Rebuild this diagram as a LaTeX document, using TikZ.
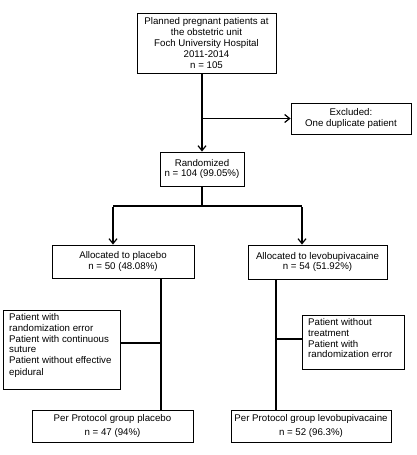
\documentclass[tikz,border=0pt]{standalone}
\usepackage{fontspec}
\setmainfont{Liberation Sans}
\usetikzlibrary{arrows.meta}
\begin{document}
\begin{tikzpicture}[x=1pt,y=-1pt,
  txt/.style={font=\fontsize{9.7}{10.9}\selectfont},
  box/.style={draw,line width=0.8pt,inner sep=1pt,align=center,txt},
  conn/.style={line width=1.6pt},
  arr/.style={conn,-{Straight Barb[length=5pt,width=8pt,line width=1.2pt]}}]
\useasboundingbox (0,0) rectangle (417,455);
\node[box,minimum width=139pt,minimum height=60pt] (top) at (206.5,43) {Planned pregnant patients at\\the obstetric unit\\Foch University Hospital\\2011-2014\\n = 105};
\node[box,minimum width=120pt,minimum height=31pt] (excl) at (351,118.5) {Excluded:\\One duplicate patient};
\node[box,minimum width=84pt,minimum height=34pt] (rand) at (202,169) {Randomized\\n = 104 (99.05\%)};
\node[box,minimum width=142pt,minimum height=33pt] (allocL) at (123,261.5) {Allocated to placebo\\n = 50 (48.08\%)};
\node[box,minimum width=139pt,minimum height=34pt] (allocR) at (317.5,262) {Allocated to levobupivacaine\\n = 54 (51.92\%)};
\node[draw,line width=0.8pt,minimum width=117pt,minimum height=79pt] (exL) at (61.5,349.5) {};
\node[anchor=north west,inner sep=0pt,align=left,txt] (exLt) at (9,313) {Patient with\\randomization error\\Patient with continuous\\suture\\Patient without effective\\[1pt]epidural};
\node[draw,line width=0.8pt,minimum width=102pt,minimum height=54pt] (exR) at (353,342) {};
\node[anchor=north west,inner sep=0pt,align=left,txt] (exRt) at (308,318) {Patient without\\treatment\\Patient with\\randomization error};
\node[box,minimum width=161pt,minimum height=32pt] (ppL) at (112.5,426) {Per Protocol group placebo\\[4pt]n = 47 (94\%)};
\node[box,minimum width=160pt,minimum height=32pt] (ppR) at (311,426) {Per Protocol group levobupivacaine\\[4pt]n = 52 (96.3\%)};
\coordinate (b1) at (202,118.5);
\coordinate (s) at (202,206);
\coordinate (sL) at (113,206);
\coordinate (sR) at (302,206);
\coordinate (vL) at (161,0);
\coordinate (vR) at (276,0);
\coordinate (hL) at (0,343);
\coordinate (hR) at (0,339);
\draw[arr] (top.south -| rand.north) -- (rand.north);
\draw[arr] (b1) -- (excl.west);
\draw[conn] (rand.south) -- (s);
\draw[conn] (sL) -- (sR);
\draw[arr] ([yshift=-0.8pt]sL) -- (sL |- allocL.north);
\draw[arr] ([yshift=-0.8pt]sR) -- (sR |- allocR.north);
\draw[conn] (allocL.south -| vL) -- (ppL.north -| vL);
\draw[conn] (allocR.south -| vR) -- (ppR.north -| vR);
\draw[conn] (hL -| exL.east) -- (hL -| vL);
\draw[conn] (hR -| vR) -- (hR -| exR.west);
\end{tikzpicture}
\end{document}
